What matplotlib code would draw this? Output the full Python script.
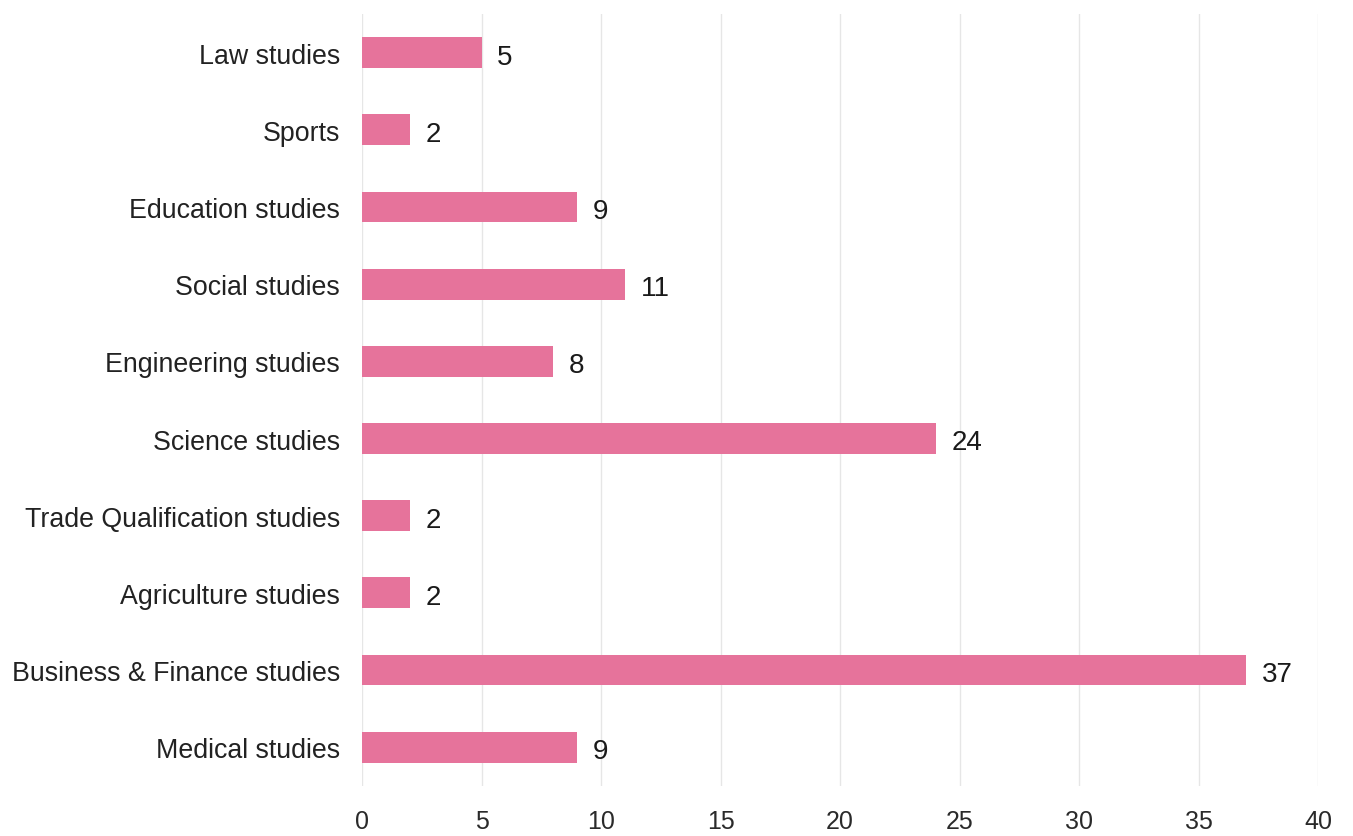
import matplotlib
matplotlib.use("Agg")
from matplotlib import pyplot as plt

categories = ["Medical studies", "Business & Finance studies", "Agriculture studies",
              "Trade Qualification studies", "Science studies", "Engineering studies",
              "Social studies", "Education studies", "Sports", "Law studies"]
values = [9, 37, 2, 2, 24, 8, 11, 9, 2, 5]
x_ticks = [0, 5, 10, 15, 20, 25, 30, 35, 40]

plt.rcParams['font.family'] = ['Liberation Sans', 'DejaVu Sans']

fig = plt.figure(figsize=(13.53, 8.37), dpi=100)
ax = fig.add_axes([0.2676, 0.06, 0.7066, 0.922])

ypos = list(range(len(categories)))
ax.barh(ypos, values, height=0.4, color='#e6739b', zorder=3)

for y, v in zip(ypos, values):
    ax.text(v + 0.65, y - 0.05, str(v), va='center', ha='left', fontsize=20, color='#1a1a1a')

ax.set_xlim(0, 40)
ax.set_ylim(-0.5, len(categories) - 0.5)
ax.set_yticks(ypos)
ax.set_yticklabels(categories, fontsize=19.3, color='#222222')
ax.set_xticks(x_ticks)
ax.set_xticklabels([str(t) for t in x_ticks], fontsize=18, color='#2a2a2a',
                   family=['Liberation Sans Narrow', 'Liberation Sans'])
ax.tick_params(axis='y', length=0, pad=16)
ax.tick_params(axis='x', length=0, pad=17)
ax.grid(axis='x', color='#e6e6e6', linewidth=1, zorder=0)
for s in ax.spines.values():
    s.set_visible(False)

plt.savefig("out.png", dpi=100)
